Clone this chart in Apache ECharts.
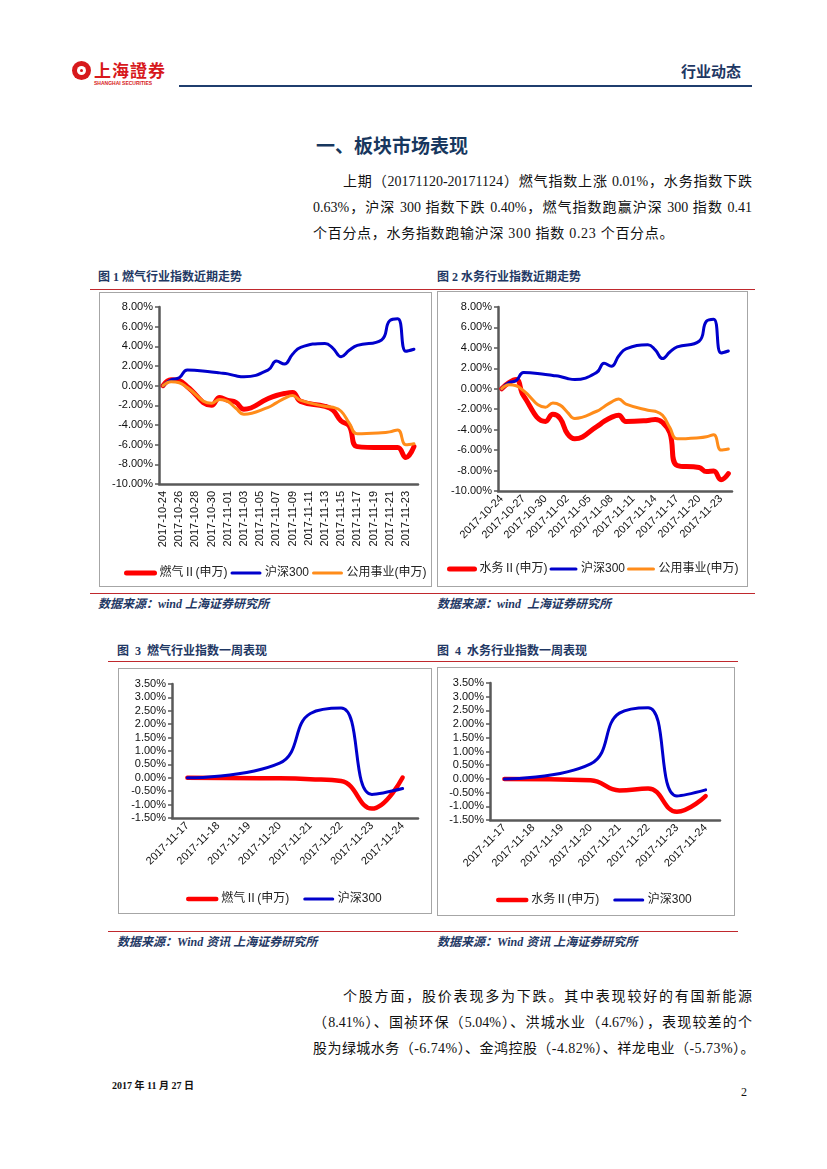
<!DOCTYPE html>
<html><head><meta charset="utf-8">
<script src="https://cdn.jsdelivr.net/npm/echarts@6/dist/echarts.min.js"></script>
<style>
body{margin:0;width:827px;height:1169px;background:#fff;position:relative;overflow:hidden;font-family:"Liberation Serif","Noto Sans CJK SC",serif;color:#111;}
.a{position:absolute;white-space:nowrap;}
.line{position:absolute;height:26px;line-height:26px;font-size:14px;white-space:nowrap;}
.just{text-align:justify;text-align-last:justify;white-space:normal;overflow:hidden;}
.cap{position:absolute;font-size:12px;font-weight:bold;color:#1f3864;line-height:14px;white-space:nowrap;font-family:"Liberation Serif","Noto Sans CJK SC",serif;}
.src{position:absolute;font-size:12px;font-weight:bold;font-style:italic;color:#1f3864;line-height:14px;white-space:nowrap;font-family:"Liberation Serif","Noto Sans CJK SC",serif;}
.rl{position:absolute;height:1px;background:#c0282d;}
.box{position:absolute;border:1.5px solid #a6a6a6;box-sizing:border-box;}
.ch{position:absolute;}
</style></head><body>

<!-- header -->
<div class="a" style="left:72px;top:61px;width:19px;height:19px;border-radius:50%;background:#d7191c;"></div>
<div class="a" style="left:77px;top:66px;width:9px;height:9px;border-radius:50%;background:#fff;"></div>
<div class="a" style="left:80px;top:69px;width:3px;height:3px;border-radius:50%;background:#d7191c;"></div>
<div class="a" style="left:94px;top:60px;font-size:17px;font-weight:bold;color:#d7191c;font-family:'Noto Sans CJK TC';line-height:20px;letter-spacing:1px;">上海證券</div>
<div class="a" style="left:94px;top:80px;font-size:5px;font-weight:bold;color:#d7191c;font-family:'Liberation Sans';line-height:6px;">SHANGHAI SECURITIES</div>
<div class="a" style="left:681px;top:61px;font-size:15px;font-weight:bold;color:#1f3864;font-family:'Noto Sans CJK SC';line-height:20px;">行业动态</div>
<div class="a" style="left:179px;top:85px;width:573px;height:2px;background:#1f3d6e;"></div>

<div class="a" style="left:316px;top:133px;font-size:19px;font-weight:bold;color:#17375e;font-family:'Noto Sans CJK SC';line-height:24px;">一、板块市场表现</div>

<div class="line just" style="left:343px;top:169px;width:409px;">上期（20171120-20171124）燃气指数上涨 0.01%，水务指数下跌</div>
<div class="line just" style="left:313px;top:195px;width:439px;">0.63%，沪深 300 指数下跌 0.40%，燃气指数跑赢沪深 300 指数 0.41</div>
<div class="line" style="left:313px;top:221px;letter-spacing:0.7px;">个百分点，水务指数跑输沪深 300 指数 0.23 个百分点。</div>

<!-- row 1 captions -->
<div class="cap" style="left:98px;top:270px;">图 1 燃气行业指数近期走势</div>
<div class="cap" style="left:437px;top:270px;">图 2 水务行业指数近期走势</div>
<div class="rl" style="left:90px;top:289px;width:665px;"></div>
<div class="box" style="left:99px;top:292px;width:333px;height:295px;"></div>
<div class="box" style="left:437px;top:291px;width:311px;height:296px;"></div>
<div id="c1" class="ch" style="left:99px;top:292px;width:333px;height:295px;"></div>
<div id="c2" class="ch" style="left:437px;top:291px;width:311px;height:296px;"></div>
<div class="rl" style="left:90px;top:593px;width:665px;"></div>
<div class="src" style="left:98px;top:597px;">数据来源：wind 上海证券研究所</div>
<div class="src" style="left:437px;top:597px;">数据来源：wind&nbsp; 上海证券研究所</div>

<!-- row 2 -->
<div class="cap" style="left:117px;top:644px;">图&nbsp; 3&nbsp; 燃气行业指数一周表现</div>
<div class="cap" style="left:437px;top:644px;">图&nbsp; 4&nbsp; 水务行业指数一周表现</div>
<div class="rl" style="left:108px;top:661px;width:630px;"></div>
<div class="box" style="left:118px;top:668px;width:314px;height:246px;"></div>
<div class="box" style="left:437px;top:667px;width:298px;height:249px;"></div>
<div id="c3" class="ch" style="left:118px;top:668px;width:314px;height:246px;"></div>
<div id="c4" class="ch" style="left:437px;top:667px;width:298px;height:249px;"></div>
<div class="rl" style="left:108px;top:931px;width:630px;"></div>
<div class="src" style="left:117px;top:935px;">数据来源：Wind 资讯 上海证券研究所</div>
<div class="src" style="left:437px;top:935px;">数据来源：Wind 资讯 上海证券研究所</div>

<div class="line just" style="left:343px;top:984px;width:409px;">个股方面，股价表现多为下跌。其中表现较好的有国新能源</div>
<div class="line just" style="left:313px;top:1010px;width:439px;">（8.41%）、国祯环保（5.04%）、洪城水业（4.67%），表现较差的个</div>
<div class="line" style="left:313px;top:1036px;letter-spacing:0.45px;">股为绿城水务（-6.74%）、金鸿控股（-4.82%）、祥龙电业（-5.73%）。</div>

<div class="a" style="left:112px;top:1079px;font-size:10px;font-weight:bold;line-height:14px;">2017 年 11 月 27 日</div>
<div class="a" style="left:741px;top:1084px;font-size:12px;line-height:16px;">2</div>

<script>
// ---------- data ----------
const monthDates = ['2017-10-24','2017-10-25','2017-10-26','2017-10-27','2017-10-28','2017-10-29','2017-10-30','2017-10-31',
 '2017-11-01','2017-11-02','2017-11-03','2017-11-04','2017-11-05','2017-11-06','2017-11-07','2017-11-08','2017-11-09','2017-11-10',
 '2017-11-11','2017-11-12','2017-11-13','2017-11-14','2017-11-15','2017-11-16','2017-11-17','2017-11-18','2017-11-19',
 '2017-11-20','2017-11-21','2017-11-22','2017-11-23','2017-11-24'];
// percent values; null = non-trading day
const gasMonth   = [0,0.6,0.5,-0.1,null,null,-2.0,-1.2,-1.5,-1.7,-2.4,null,null,-1.3,-1.0,-0.8,-0.7,-1.6,null,null,-2.1,-2.5,-3.6,-4.1,-6.2,null,null,-6.3,-6.3,-6.3,-7.3,-6.2];
const waterMonth = [0,0.6,0.9,-0.7,null,null,-3.2,-2.5,-2.9,-4.4,-4.9,null,null,-3.7,-3.2,-2.8,-2.6,-3.2,null,null,-3.1,-3.0,-3.3,-4.3,-7.5,null,null,-7.7,-8.1,-8.05,-8.9,-8.3];
const hs300Month = [0,0.6,0.8,1.6,null,null,1.4,1.3,1.2,1.0,0.9,null,null,1.6,2.5,2.2,3.2,3.9,null,null,4.3,3.8,2.95,3.6,4.1,null,null,4.65,6.6,6.8,3.5,3.7];
const utilMonth  = [0,0.4,0.3,-0.2,null,null,-1.8,-1.4,-1.6,-2.3,-2.9,null,null,-2.2,-1.75,-1.3,-1.0,-1.5,null,null,-2.1,-2.2,-2.6,-3.8,-4.9,null,null,-4.8,-4.7,-4.5,-6.0,-5.9];

const weekDates = ['2017-11-17','2017-11-18','2017-11-19','2017-11-20','2017-11-21','2017-11-22','2017-11-23','2017-11-24'];
const gasWeek   = [0,null,null,-0.02,-0.05,-0.12,-1.15,0.01];
const waterWeek = [0,null,null,-0.05,-0.42,-0.35,-1.2,-0.63];
const hs300Week = [0,null,null,0.55,2.4,2.6,-0.62,-0.4];

const nameGas = '燃气Ⅱ(申万)', nameWater = '水务Ⅱ(申万)', nameHS = '沪深300', nameUtil = '公用事业(申万)';
const RED = '#ff0000', BLUE = '#0000cc', ORANGE = '#ff8c1a';

// ---------- helpers ----------
const AX = '#595959';
const FONT = '"Liberation Sans","Noto Sans CJK SC",sans-serif';
function ser(name, data, color, width){
  return {name, type:'line', data, smooth:0.45, connectNulls:true, symbol:'none',
    lineStyle:{color, width, cap:'round', join:'round'}, itemStyle:{color}};
}
function build(o){
  return {
    animation:false,
    textStyle:{fontFamily:FONT},
    grid:{left:o.g[0], right:o.g[1], top:o.g[2], bottom:o.g[3]},
    legend:{left:o.leg[0], top:o.leg[1], width:600, itemWidth:o.leg[3], itemHeight:10, itemGap:o.leg[2],
      textStyle:{fontSize:12, color:'#222', fontFamily:FONT},
      data:o.series.map(s=>({name:s.name, itemStyle:{opacity:0}, lineStyle:{width:s.lineStyle.width, color:s.lineStyle.color}}))},
    xAxis:{type:'category', data:o.cats, boundaryGap:true,
      axisLine:{onZero:false, lineStyle:{color:AX, width:2.5}},
      axisTick:{interval:o.xi, length:4, lineStyle:{color:AX, width:1.5}},
      axisLabel:{interval:o.xi, rotate:o.rot, fontSize:11, color:'#111', margin:o.lm, fontFamily:FONT},
      splitLine:{show:false}},
    yAxis:{type:'value', min:o.y[0], max:o.y[1], interval:o.y[2],
      axisLine:{show:true, onZero:false, lineStyle:{color:AX, width:2.5}},
      axisTick:{show:true, length:4, lineStyle:{color:AX, width:1.5}},
      axisLabel:{formatter:v=>v.toFixed(2)+'%', fontSize:11, color:'#111', margin:6, fontFamily:FONT},
      splitLine:{show:false}},
    series:o.series
  };
}

echarts.init(document.getElementById('c1')).setOption(build({
  g:[60,14,15,103], leg:[20,270,3,28], cats:monthDates, xi:1, rot:90, lm:7, y:[-10,8,2],
  series:[ser(nameGas,gasMonth,RED,5), ser(nameHS,hs300Month,BLUE,3), ser(nameUtil,utilMonth,ORANGE,3)]
}));
echarts.init(document.getElementById('c2')).setOption(build({
  g:[61,16,16,96], leg:[5,267,2,25], cats:monthDates, xi:2, rot:45, lm:6, y:[-10,8,2],
  series:[ser(nameWater,waterMonth,RED,5), ser(nameHS,hs300Month,BLUE,3), ser(nameUtil,utilMonth,ORANGE,3)]
}));
echarts.init(document.getElementById('c3')).setOption(build({
  g:[54,14,16,96], leg:[63,220,14,28], cats:weekDates, xi:0, rot:45, lm:6, y:[-1.5,3.5,0.5],
  series:[ser(nameGas,gasWeek,RED,4.5), ser(nameHS,hs300Week,BLUE,3)]
}));
echarts.init(document.getElementById('c4')).setOption(build({
  g:[53,15,16,96], leg:[54,222,14,28], cats:weekDates, xi:0, rot:45, lm:6, y:[-1.5,3.5,0.5],
  series:[ser(nameWater,waterWeek,RED,4.5), ser(nameHS,hs300Week,BLUE,3)]
}));
</script>
</body></html>
